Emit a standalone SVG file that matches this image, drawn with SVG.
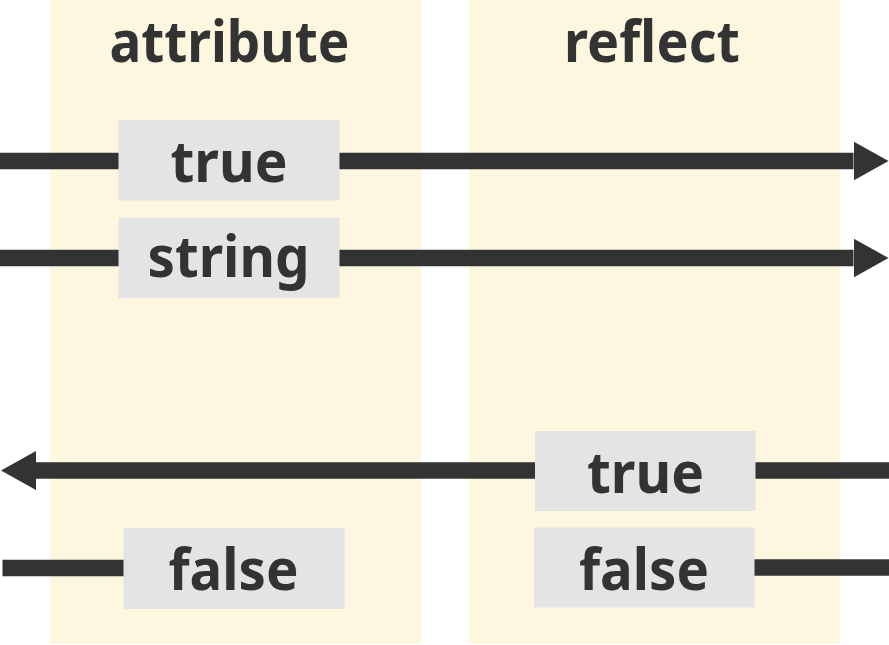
<svg xmlns="http://www.w3.org/2000/svg" width="889" height="645" viewBox="0 0 889 645">
  <defs>
    <style>
      .col { fill: #fef7e0; }
      .box { fill: #e4e4e4; }
      .lbl { font-family: "Noto Sans", "Open Sans", "Liberation Sans", sans-serif; font-weight: bold; font-size: 57px; fill: #333333; text-anchor: middle; }
      .conn { stroke: #333333; stroke-width: 16.5; fill: none; }
    </style>
    <marker id="arrow" markerUnits="userSpaceOnUse" markerWidth="36" markerHeight="40" refX="0" refY="19.5" orient="auto" viewBox="0 0 36 40">
      <path d="M0,0 L35,19.5 L0,39 Z" fill="#333333"/>
    </marker>
  </defs>

  <g id="columns">
    <g id="col-attribute">
      <rect class="col" x="50" y="0" width="371" height="644"/>
      <text class="lbl" x="229.5" y="62" textLength="240" lengthAdjust="spacingAndGlyphs">attribute</text>
    </g>
    <g id="col-reflect">
      <rect class="col" x="469" y="0" width="371" height="644"/>
      <text class="lbl" x="652" y="62" textLength="176" lengthAdjust="spacingAndGlyphs">reflect</text>
    </g>
  </g>

  <g id="connectors">
    <line class="conn" x1="0" y1="161" x2="853.5" y2="161" marker-end="url(#arrow)"/>
    <line class="conn" x1="0" y1="258" x2="853.5" y2="258" marker-end="url(#arrow)"/>
    <line class="conn" x1="889" y1="470.5" x2="36" y2="470.5" marker-end="url(#arrow)"/>
    <line class="conn" x1="2.5" y1="568" x2="124" y2="568"/>
    <line class="conn" x1="754" y1="567.5" x2="889" y2="567.5"/>
  </g>

  <g id="node-attr-true">
    <rect class="box" x="118.5" y="120" width="221" height="80.5"/>
    <text class="lbl" x="229" y="181.5" textLength="117" lengthAdjust="spacingAndGlyphs">true</text>
  </g>
  <g id="node-attr-string">
    <rect class="box" x="118.5" y="217.5" width="221" height="80.5"/>
    <text class="lbl" x="228.5" y="277" textLength="162" lengthAdjust="spacingAndGlyphs">string</text>
  </g>
  <g id="node-reflect-true">
    <rect class="box" x="535" y="431" width="220.5" height="80"/>
    <text class="lbl" x="645.5" y="492.5" textLength="117" lengthAdjust="spacingAndGlyphs">true</text>
  </g>
  <g id="node-reflect-false">
    <rect class="box" x="534" y="527.5" width="220.5" height="80"/>
    <text class="lbl" x="644" y="590" textLength="130" lengthAdjust="spacingAndGlyphs">false</text>
  </g>
  <g id="node-attr-false">
    <rect class="box" x="123.5" y="528" width="221" height="81"/>
    <text class="lbl" x="233.5" y="590" textLength="130" lengthAdjust="spacingAndGlyphs">false</text>
  </g>
</svg>
